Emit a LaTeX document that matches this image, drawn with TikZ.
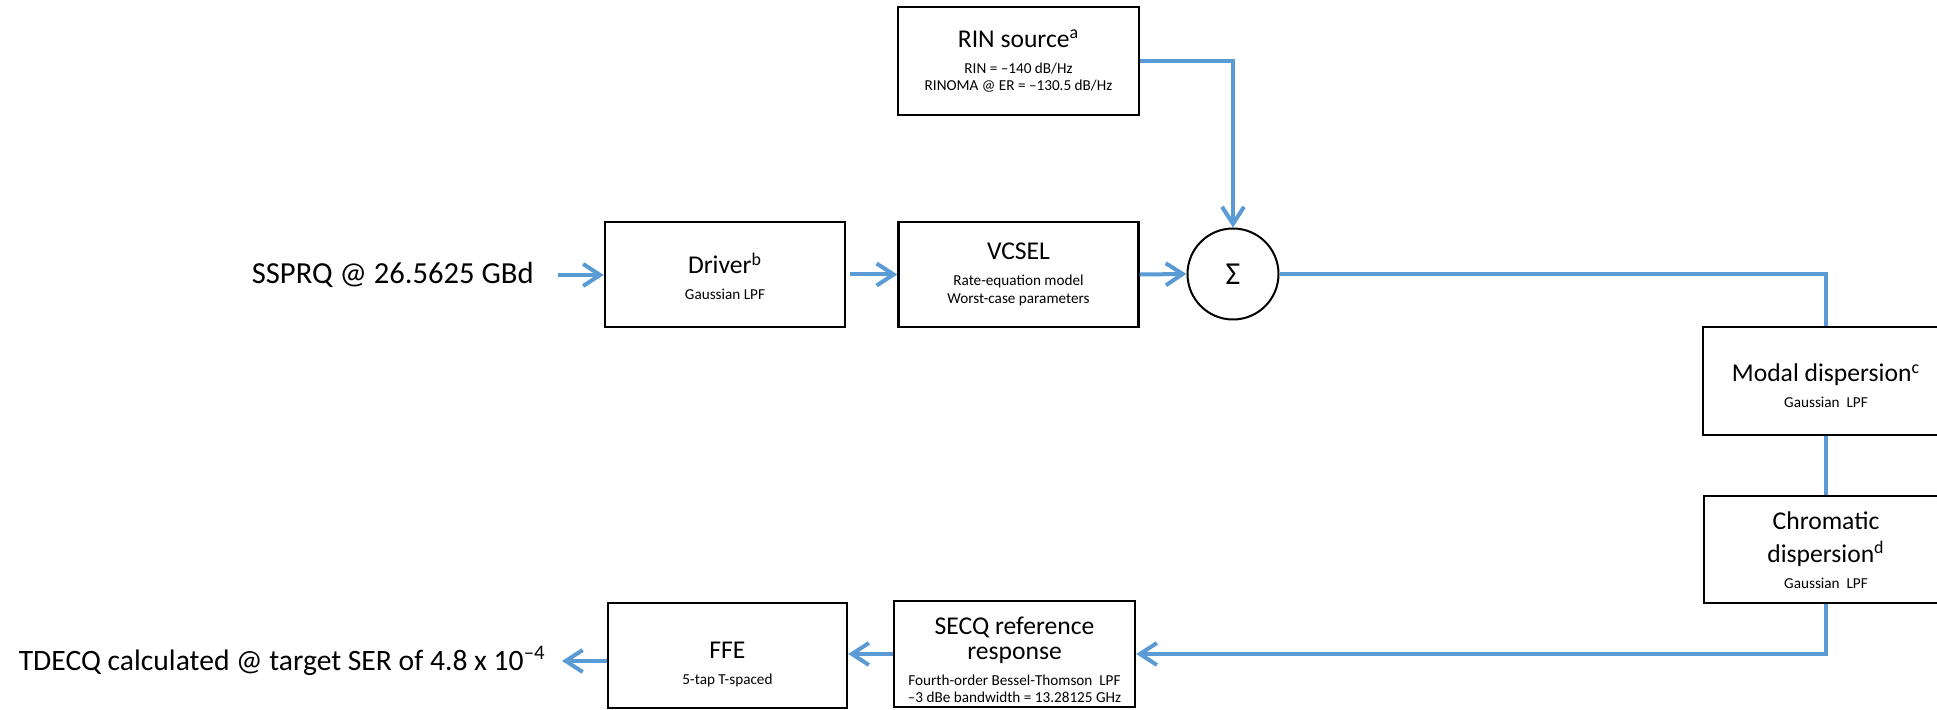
\documentclass[tikz,border=0pt]{standalone}
\usepackage{fontspec}
\setmainfont{Carlito}
\usetikzlibrary{arrows.meta}
\definecolor{lineblue}{RGB}{91,155,213}
\newcommand\ttl[2][10.5pt]{\rule[-5.5pt]{0pt}{#1}{\fontsize{12.8}{15}\selectfont #2}}
\newcommand\sml[1]{\rule[-1pt]{0pt}{8.5pt}{\fontsize{7.6}{9}\selectfont #1}}
\begin{document}
\begin{tikzpicture}[x=0.5pt,y=-0.5pt,
  blk/.style={draw=black, line width=1.2pt, rectangle, inner sep=0pt, align=center, font=\offinterlineskip},
  conn/.style={draw=lineblue, line width=2pt},
  arr/.style={conn, -{Straight Barb[length=8.5pt,width=11pt]}},
  lbl/.style={anchor=east, inner sep=0pt},
]
\useasboundingbox (0,0) rectangle (1937,710);

\node[blk, minimum width=120.5pt, minimum height=54pt] (rin) at (1018.5,61)
  {\ttl[11.5pt]{RIN source\textsuperscript{a}}\\ \sml{RIN = –140 dB/Hz}\\ \sml{RINOMA @ ER = –130.5 dB/Hz}};
\node[blk, minimum width=120pt, minimum height=52.5pt] (driver) at (725,274.5)
  {\ttl[19pt]{Driver\textsuperscript{b}}\\ \sml{Gaussian LPF}};
\node[blk, minimum width=120pt, minimum height=52.5pt] (vcsel) at (1018.5,274.5)
  {\ttl[13pt]{VCSEL}\\ \sml{Rate-equation model}\\ \sml{Worst-case parameters}};
\node[circle, draw=black, line width=1pt, minimum size=45.5pt, inner sep=0pt,
  font=\fontsize{16}{18}\selectfont] (sum) at (1233,274) {Σ};
\node[blk, minimum width=123pt, minimum height=54pt] (modal) at (1826,381)
  {\ttl[20.5pt]{Modal dispersion\textsuperscript{c}}\\ \sml{Gaussian\ \ LPF}};
\node[blk, minimum width=122pt, minimum height=53.5pt] (chrom) at (1826,549.5)
  {\ttl[16pt]{Chromatic}\\ \ttl[12.25pt]{dispersion\textsuperscript{d}}\\ \sml{Gaussian\ \ LPF}};
\node[blk, minimum width=120.5pt, minimum height=53pt] (secq) at (1014.5,654)
  {\ttl[20.5pt]{SECQ reference}\\ \ttl[12.5pt]{response}\\ \sml{Fourth-order Bessel-Thomson\ \ LPF}\\ \sml{–3 dBe bandwidth = 13.28125 GHz}};
\node[blk, minimum width=119.5pt, minimum height=52.5pt] (ffe) at (727.5,655.5)
  {\ttl[23pt]{FFE}\\ \sml{5-tap T-spaced}};

\node[lbl, font=\fontsize{15.3}{18}\selectfont] (ssprq) at (534,275) {SSPRQ @ 26.5625 GBd};
\node[lbl, font=\fontsize{14.8}{18}\selectfont] (tdecq) at (546,661) {TDECQ calculated @ target SER of 4.8 x 10\textsuperscript{–4}};

\draw[arr, shorten <=12pt] (ssprq.east) -- (ssprq.east -| driver.west);
\draw[arr, shorten <=2pt] (driver.east) -- (vcsel.west);
\draw[arr] (vcsel.east) -- (sum.west);
\draw[arr] (rin.east) -| (sum.north);
\draw[conn] (sum.east) -| (modal.north);
\draw[conn] (modal.south) -- (chrom.north);
\draw[arr] (chrom.south) |- (secq.east);
\draw[arr] (secq.west) -- (secq.west -| ffe.east);
\draw[arr, shorten >=8pt] (ffe.west |- tdecq.east) -- (tdecq.east);
\end{tikzpicture}
\end{document}
